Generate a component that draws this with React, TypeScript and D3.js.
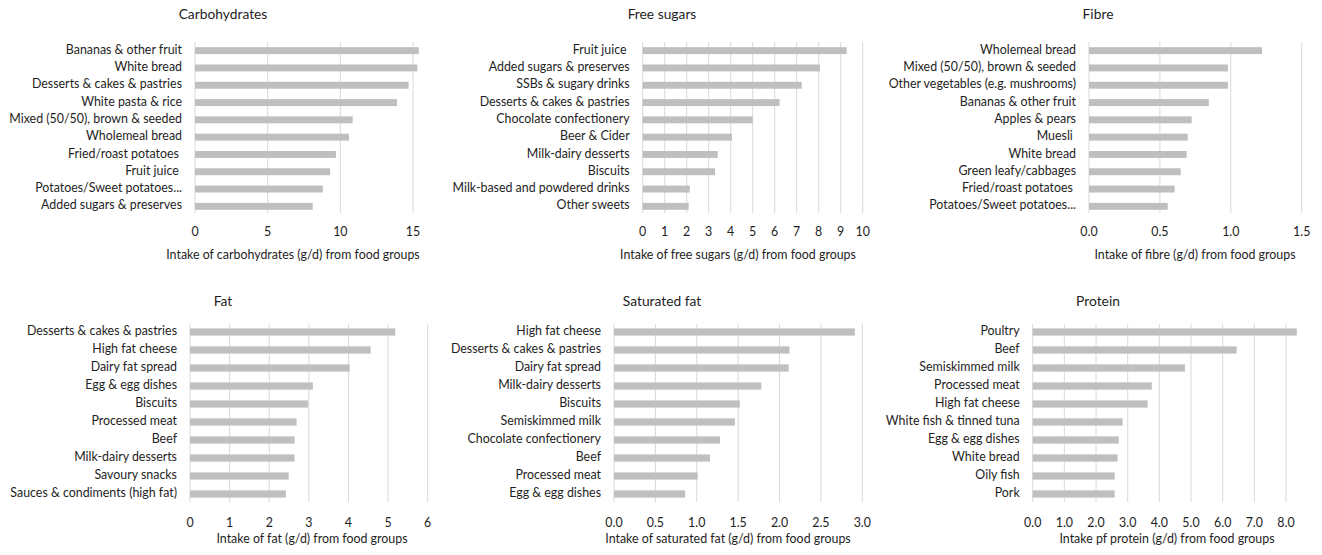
import * as React from "react";
import * as d3 from "d3";

// food groups and intakes (g/d)
const carbLabels = ["Bananas & other fruit", "White bread", "Desserts & cakes & pastries", "White pasta & rice", "Mixed (50/50), brown & seeded", "Wholemeal bread", "Fried/roast potatoes ", "Fruit juice ", "Potatoes/Sweet potatoes...", "Added sugars & preserves"];
const carbValues = [15.4, 15.3, 14.7, 13.9, 10.85, 10.6, 9.7, 9.3, 8.8, 8.1];
const carbTicks = [0, 5, 10, 15];

const sugarLabels = ["Fruit juice ", "Added sugars & preserves", "SSBs & sugary drinks", "Desserts & cakes & pastries", "Chocolate confectionery", "Beer & Cider", "Milk-dairy desserts", "Biscuits", "Milk-based and powdered drinks", "Other sweets"];
const sugarValues = [9.27, 8.06, 7.23, 6.22, 5.0, 4.06, 3.41, 3.29, 2.14, 2.09];
const sugarTicks = [0, 1, 2, 3, 4, 5, 6, 7, 8, 9, 10];

const fibreLabels = ["Wholemeal bread", "Mixed (50/50), brown & seeded", "Other vegetables (e.g. mushrooms)", "Bananas & other fruit", "Apples & pears", "Muesli ", "White bread", "Green leafy/cabbages", "Fried/roast potatoes ", "Potatoes/Sweet potatoes..."];
const fibreValues = [1.22, 0.98, 0.98, 0.845, 0.724, 0.696, 0.689, 0.647, 0.604, 0.555];
const fibreTicks = [0, 0.5, 1.0, 1.5];

const fatLabels = ["Desserts & cakes & pastries", "High fat cheese", "Dairy fat spread", "Egg & egg dishes", "Biscuits", "Processed meat", "Beef", "Milk-dairy desserts", "Savoury snacks", "Sauces & condiments (high fat)"];
const fatValues = [5.18, 4.56, 4.03, 3.1, 2.98, 2.69, 2.64, 2.64, 2.49, 2.42];
const fatTicks = [0, 1, 2, 3, 4, 5, 6];

const satLabels = ["High fat cheese", "Desserts & cakes & pastries", "Dairy fat spread", "Milk-dairy desserts", "Biscuits", "Semiskimmed milk", "Chocolate confectionery", "Beef", "Processed meat", "Egg & egg dishes"];
const satValues = [2.91, 2.12, 2.11, 1.78, 1.52, 1.46, 1.28, 1.16, 1.01, 0.86];
const satTicks = [0, 0.5, 1.0, 1.5, 2.0, 2.5, 3.0];

const proteinLabels = ["Poultry", "Beef", "Semiskimmed milk", "Processed meat", "High fat cheese", "White fish & tinned tuna", "Egg & egg dishes", "White bread", "Oily fish", "Pork"];
const proteinValues = [8.34, 6.44, 4.81, 3.76, 3.63, 2.84, 2.72, 2.68, 2.59, 2.59];
const proteinTicks = [0, 1, 2, 3, 4, 5, 6, 7, 8];

const width = 1322;
const height = 555;
const font = "Lato, 'Open Sans', sans-serif";
const barColor = "#bfbfbf";
const gridColor = "#d9d9d9";
const textColor = "#1e1e1e";

const panels = [
  { title: "Carbohydrates", axisTitle: "Intake of carbohydrates (g/d) from food groups", labels: carbLabels, values: carbValues, ticks: carbTicks, fmt: "d", row: 0, x0: 195, x1: 413, titleX: 223, axisTitleX: 293 },
  { title: "Free sugars", axisTitle: "Intake of free sugars (g/d) from food groups", labels: sugarLabels, values: sugarValues, ticks: sugarTicks, fmt: "d", row: 0, x0: 642.7, x1: 862.7, titleX: 662, axisTitleX: 738 },
  { title: "Fibre", axisTitle: "Intake of fibre (g/d) from food groups", labels: fibreLabels, values: fibreValues, ticks: fibreTicks, fmt: ".1f", row: 0, x0: 1089, x1: 1301.7, titleX: 1098, axisTitleX: 1195 },
  { title: "Fat", axisTitle: "Intake of fat (g/d) from food groups", labels: fatLabels, values: fatValues, ticks: fatTicks, fmt: "d", row: 1, x0: 190, x1: 427.7, titleX: 223, axisTitleX: 312 },
  { title: "Saturated fat", axisTitle: "Intake of saturated fat (g/d) from food groups", labels: satLabels, values: satValues, ticks: satTicks, fmt: ".1f", row: 1, x0: 614, x1: 862.3, titleX: 662, axisTitleX: 728 },
  { title: "Protein", axisTitle: "Intake pf protein (g/d) from food groups", labels: proteinLabels, values: proteinValues, ticks: proteinTicks, fmt: ".1f", row: 1, x0: 1032.7, x1: 1286, titleX: 1098, axisTitleX: 1167 },
];

// vertical layout per row: title, plot band, tick labels, axis title
const rows = [
  { titleY: 15, top: 42, bottom: 215, gridTop: 42, gridBottom: 213, tickY: 233, axisTitleY: 256 },
  { titleY: 302, top: 323, bottom: 503, gridTop: 324, gridBottom: 502, tickY: 524, axisTitleY: 540 },
];

function Panel({ p }) {
  const r = rows[p.row];
  const x = d3.scaleLinear().domain([0, p.ticks[p.ticks.length - 1]]).range([p.x0, p.x1]);
  const y = d3.scaleBand().domain(p.labels).range([r.top, r.bottom]).paddingInner(0.6).paddingOuter(0.3);
  const f = d3.format(p.fmt);
  return (
    <g fontFamily={font} fill={textColor}>
      <text x={p.titleX} y={r.titleY} textAnchor="middle" dominantBaseline="middle" fontSize={13.8}>{p.title}</text>
      {p.ticks.map(t => (
        <line key={"g" + t} x1={x(t)} x2={x(t)} y1={r.gridTop} y2={r.gridBottom} stroke={gridColor} strokeWidth={1} />
      ))}
      {p.labels.map((l, i) => (
        <g key={l}>
          <rect x={x(0)} y={y(l)} width={x(p.values[i]) - x(0)} height={y.bandwidth()} fill={barColor} />
          <text x={x(0) - 13} y={y(l) + y.bandwidth() / 2} textAnchor="end" dominantBaseline="middle" fontSize={12.4} style={{ whiteSpace: "pre" }}>{l}</text>
        </g>
      ))}
      {p.ticks.map(t => (
        <text key={"t" + t} x={x(t)} y={r.tickY} textAnchor="middle" dominantBaseline="middle" fontSize={12.4}>{f(t)}</text>
      ))}
      <text x={p.axisTitleX} y={r.axisTitleY} textAnchor="middle" dominantBaseline="middle" fontSize={12.4}>{p.axisTitle}</text>
    </g>
  );
}

export default function App() {
  return (
    <svg width={width} height={height} style={{ position: "absolute", left: 0, top: 0, background: "#fff" }}>
      {panels.map(p => <Panel key={p.title} p={p} />)}
    </svg>
  );
}
